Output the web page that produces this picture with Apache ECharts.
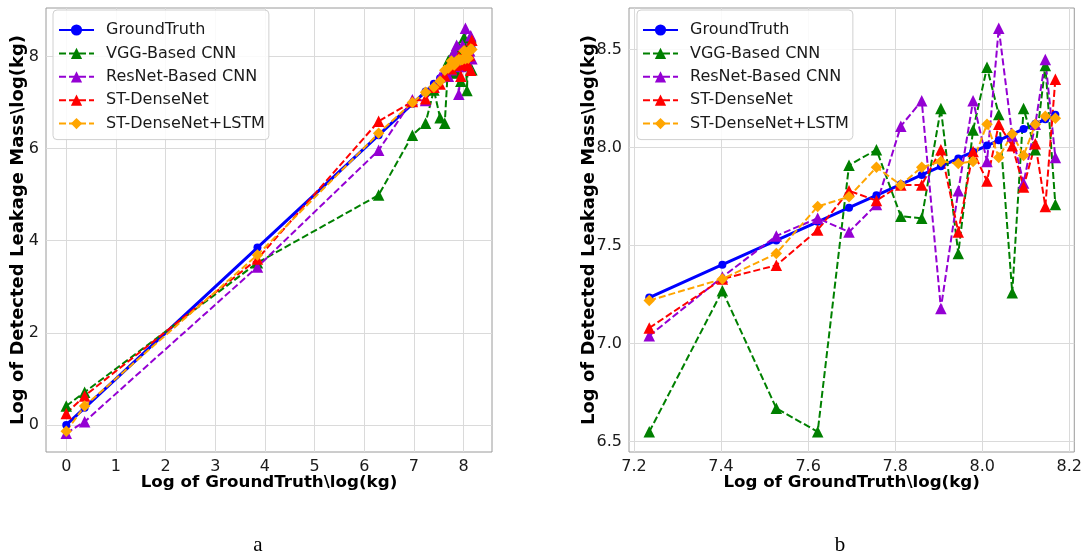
<!DOCTYPE html>
<html>
<head>
<meta charset="utf-8">
<script src="https://cdn.jsdelivr.net/npm/echarts@6/dist/echarts.min.js"></script>
<style>
  html, body { margin: 0; padding: 0; background: #fff; }
  #chart { width: 1085px; height: 559px; }
</style>
</head>
<body>
<div id="chart"></div>
<script>
// Log of ground-truth leakage mass, log(kg), for each test case
const groundTruthLog = [0, 0.37, 3.85, 6.29, 6.97,
  7.235, 7.403, 7.527, 7.622, 7.694, 7.757, 7.813, 7.861, 7.905, 7.945,
  7.979, 8.011, 8.038, 8.069, 8.095, 8.122, 8.145, 8.168];

// Log of detected leakage mass per model, log(kg)
const vggDetected = [0.41, 0.71, 3.52, 4.99, 6.29,
  6.55, 7.27, 6.67, 6.55, 7.91, 7.99, 7.65, 7.64, 8.20, 7.46,
  8.09, 8.41, 8.17, 7.26, 8.20, 7.99, 8.42, 7.71];
const resnetDetected = [-0.18, 0.07, 3.43, 5.96, 7.06,
  7.04, 7.34, 7.55, 7.64, 7.57, 7.71, 8.11, 8.24, 7.18, 7.78,
  8.24, 7.93, 8.61, 8.06, 7.82, 8.12, 8.45, 7.95];
const denseDetected = [0.25, 0.63, 3.60, 6.59, 7.02,
  7.08, 7.33, 7.40, 7.58, 7.78, 7.73, 7.81, 7.81, 7.99, 7.57,
  7.98, 7.83, 8.12, 8.01, 7.80, 8.02, 7.70, 8.35];
const lstmDetected = [-0.14, 0.41, 3.69, 6.33, 7.00,
  7.22, 7.33, 7.46, 7.70, 7.75, 7.90, 7.81, 7.90, 7.93, 7.92,
  7.93, 8.12, 7.95, 8.07, 7.96, 8.12, 8.16, 8.15];

// Panel b shows the high-mass cases only
const zoomStart = 5;

// Tick labels
const ticksAX = [0, 1, 2, 3, 4, 5, 6, 7, 8];
const ticksAY = [0, 2, 4, 6, 8];
const ticksBX = [7.2, 7.4, 7.6, 7.8, 8.0, 8.2];
const ticksBY = [6.5, 7.0, 7.5, 8.0, 8.5];

const seriesNames = ['GroundTruth', 'VGG-Based CNN', 'ResNet-Based CNN', 'ST-DenseNet', 'ST-DenseNet+LSTM'];
const seriesValues = [groundTruthLog, vggDetected, resnetDetected, denseDetected, lstmDetected];
const seriesColors = ['#0000ff', '#008000', '#9400d3', '#ff0000', '#ffa500'];
const seriesSymbols = ['circle', 'triangle', 'triangle', 'triangle', 'diamond'];

const xTitle = 'Log of GroundTruth\\log(kg)';
const yTitle = 'Log of Detected Leakage Mass\\log(kg)';

const tickFont = { fontSize: 16, color: '#1a1a1a', fontFamily: 'DejaVu Sans' };

function makeAxis(gridIndex, min, max, ticks, fmt, isY, gap) {
  return {
    type: 'value', gridIndex, min, max,
    name: isY ? yTitle : xTitle,
    nameLocation: 'middle', nameGap: gap,
    nameMoveOverlap: false,
    nameTextStyle: { fontSize: isY ? 18 : 16.7, fontWeight: 'bold', color: '#000', fontFamily: 'DejaVu Sans' },
    axisLine: { show: false },
    axisTick: { show: false, customValues: ticks },
    axisLabel: Object.assign({ customValues: ticks, margin: 7, formatter: fmt }, tickFont),
    splitLine: { show: true, lineStyle: { color: '#dadada', width: 1 } }
  };
}

const fmtInt = v => String(Math.round(v));
const fmtOne = v => v.toFixed(1);

function buildSeries(gridIdx, start) {
  return seriesNames.map((name, i) => {
    const pts = groundTruthLog.slice(start).map((gx, k) => [gx, seriesValues[i][start + k]]);
    const isTruth = i === 0;
    return {
      name, type: 'line', xAxisIndex: gridIdx, yAxisIndex: gridIdx,
      data: pts,
      symbol: seriesSymbols[i],
      symbolSize: isTruth ? 8 : 11.5,
      showAllSymbol: true,
      clip: true,
      color: seriesColors[i],
      lineStyle: { width: isTruth ? 3 : 2, type: isTruth ? 'solid' : [7, 3], color: seriesColors[i] },
      itemStyle: { color: seriesColors[i] },
      emphasis: { disabled: true },
      animation: false
    };
  });
}

function makeLegend(left) {
  return {
    orient: 'vertical', left, top: 10,
    data: seriesNames,
    itemWidth: 35, itemHeight: 14, itemGap: 7.4,
    textStyle: { fontSize: 16, color: '#1a1a1a', fontFamily: 'DejaVu Sans', padding: [0, 0, 0, 7] },
    backgroundColor: 'rgba(255,255,255,0.85)',
    borderColor: '#d0d0d0', borderWidth: 1, borderRadius: 4,
    padding: [12, 4, 8, 5],
    selectedMode: false
  };
}

const chart = echarts.init(document.getElementById('chart'), null, { renderer: 'canvas' });
chart.setOption({
  animation: false,
  backgroundColor: '#fff',
  grid: [
    { left: 46, top: 8, width: 446, height: 444, show: true, borderColor: '#9a9a9a', borderWidth: 1, backgroundColor: 'transparent' },
    { left: 629, top: 8, width: 447, height: 444, show: true, borderColor: '#9a9a9a', borderWidth: 1, backgroundColor: 'transparent' }
  ],
  xAxis: [
    makeAxis(0, -0.408, 8.573, ticksAX, fmtInt, false, 22),
    makeAxis(1, 7.1885, 8.2115, ticksBX, fmtOne, false, 22)
  ],
  yAxis: [
    makeAxis(0, -0.588, 9.05, ticksAY, fmtInt, true, 19),
    makeAxis(1, 6.447, 8.713, ticksBY, fmtOne, true, 31)
  ],
  legend: [makeLegend(53), makeLegend(637)],
  series: buildSeries(0, 0).concat(buildSeries(1, zoomStart)),
  graphic: [
    { type: 'text', x: 258, y: 545, style: { text: 'a', font: '21px "Liberation Serif"', fill: '#000', align: 'center', verticalAlign: 'middle' } },
    { type: 'text', x: 840, y: 545, style: { text: 'b', font: '21px "Liberation Serif"', fill: '#000', align: 'center', verticalAlign: 'middle' } }
  ]
});
</script>
</body>
</html>
